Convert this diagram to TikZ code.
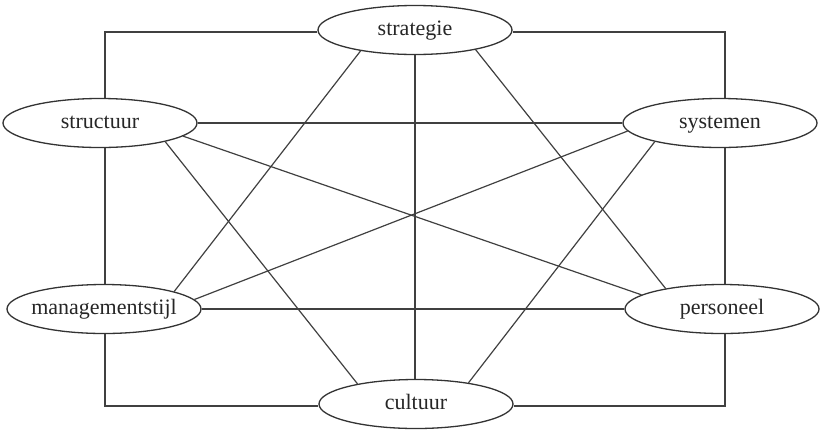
\documentclass[tikz,border=0pt]{standalone}
\usepackage{fontspec}
\setmainfont{Liberation Serif}
\usetikzlibrary{shapes.geometric}
\begin{document}
\begin{tikzpicture}[x=1pt,y=-1pt,
  elem/.style={ellipse,draw=black!80,line width=1.3pt,fill=white,
    minimum width=194pt,minimum height=49pt,inner ysep=0pt,inner xsep=-12pt,
    text height=14pt,text depth=4pt,
    font=\fontsize{22}{24}\selectfont,text=black!85},
  link/.style={draw=black!75,line width=1.2pt}]
\useasboundingbox (0,0) rectangle (824,429);
\node[elem] (S)  at (415,30)  {strategie};
\node[elem] (St) at (100,123) {structuur};
\node[elem] (Sy) at (720,123) {systemen};
\node[elem] (M)  at (104,309) {managementstijl};
\node[elem] (P)  at (722,309) {personeel};
\node[elem] (C)  at (416,404) {cultuur};
\coordinate (tl) at (105,32);
\coordinate (tr) at (725,32);
\coordinate (br) at (725,406);
\coordinate (bl) at (105,406);
% frame
\draw[link] (tl -| S.west) -- (tl) -- (tl |- St.north);
\draw[link] (tl |- St.south) -- (tl |- M.north);
\draw[link] (bl |- M.south) -- (bl) -- (bl -| C.west);
\draw[link] (br -| C.east) -- (br) -- (br |- P.south);
\draw[link] (br |- P.north) -- (br |- Sy.south);
\draw[link] (tr |- Sy.north) -- (tr) -- (tr -| S.east);
% horizontals and vertical
\draw[link] (St.east) -- (Sy.west);
\draw[link] (M.east) -- (P.west);
\draw[link] (S.south) -- (S.south |- C.north);
% diagonals
\draw[link] (S.201) -- (M.14.4);
\draw[link] (S.342) -- (P.160.4);
\draw[link] (St.-9.1) -- (P.170);
\draw[link] (St.-16.3) -- (C.161.6);
\draw[link] (Sy.185.5) -- (M.6.9);
\draw[link] (Sy.196.3) -- (C.22.9);
\end{tikzpicture}
\end{document}
